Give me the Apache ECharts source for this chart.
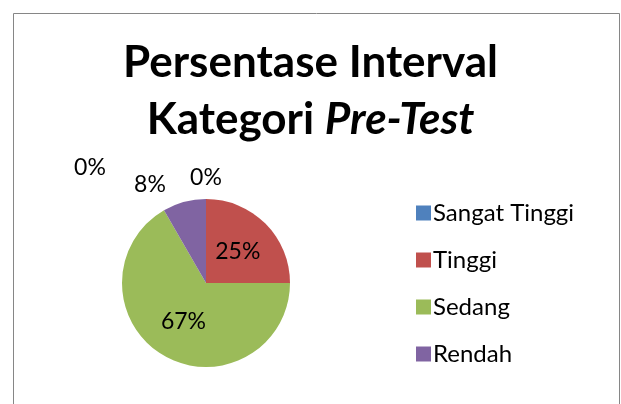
<!DOCTYPE html>
<html>
<head>
<meta charset="utf-8">
<script src="https://cdn.jsdelivr.net/npm/echarts@6/dist/echarts.min.js"></script>
<style>
  html, body { margin: 0; padding: 0; background: #fff; }
  #main { width: 621px; height: 404px; }
</style>
</head>
<body>
<div id="main"></div>
<script>
// data
var kategori = ['Sangat Tinggi', 'Tinggi', 'Sedang', 'Rendah', 'Sangat Rendah'];
var jumlah = [0, 3, 8, 1, 0];
var warna = ['#4F81BD', '#C0504D', '#9BBB59', '#8064A2', '#4BACC6'];
var legendItems = ['Sangat Tinggi', 'Tinggi', 'Sedang', 'Rendah'];

var font = 'Lato, "Open Sans", sans-serif';
var pieCenter = [206, 283];
// geser label kecil (dx, dy dari pusat pie) seperti di excel
var labelGeser = { 0: [0, -105], 3: [-56, -98], 4: [-116, -115] };

var myChart = echarts.init(document.getElementById('main'));

var seriesData = [];
for (var i = 0; i < kategori.length; i++) {
	var item = { name: kategori[i], value: jumlah[i], itemStyle: { color: warna[i] } };
	if (labelGeser[i]) {
		item.label = { position: 'outside' };
	}
	seriesData.push(item);
}

myChart.setOption({
	animation: false,
	title: {
		text: '{b|Persentase Interval}\n{b|Kategori }{i|Pre-Test}',
		left: 'center',
		top: 29,
		textStyle: {
			rich: {
				b: { fontFamily: font, fontWeight: 'bold', fontSize: 44, color: '#000', lineHeight: 57 },
				i: { fontFamily: font, fontWeight: 'bold', fontStyle: 'italic', fontSize: 44, color: '#000', lineHeight: 57 }
			}
		}
	},
	legend: {
		data: legendItems,
		orient: 'vertical',
		left: 411,
		top: 196,
		itemWidth: 15,
		itemHeight: 15,
		itemGap: 23,
		icon: 'rect',
		textStyle: { fontFamily: font, fontSize: 24, color: '#000', padding: [0, 0, 0, -3] }
	},
	graphic: [{
		type: 'rect',
		shape: { x: 13.5, y: 13.5, width: 606, height: 400 },
		style: { fill: 'none', stroke: '#868686', lineWidth: 1 }
	}],
	series: [{
		type: 'pie',
		center: pieCenter,
		radius: 84,
		startAngle: 90,
		clockwise: true,
		data: seriesData,
		label: {
			show: true,
			position: 'inside',
			formatter: function(p) { return Math.round(p.percent) + '%'; },
			fontFamily: font,
			fontSize: 23,
			color: '#000'
		},
		labelLine: { show: false },
		labelLayout: function(params) {
			var g = labelGeser[params.dataIndex];
			if (!g) return {};
			return {
				x: pieCenter[0] + g[0],
				y: pieCenter[1] + g[1],
				align: 'center',
				verticalAlign: 'middle',
				moveOverlap: null
			};
		},
		emphasis: { disabled: true }
	}]
});
</script>
</body>
</html>
